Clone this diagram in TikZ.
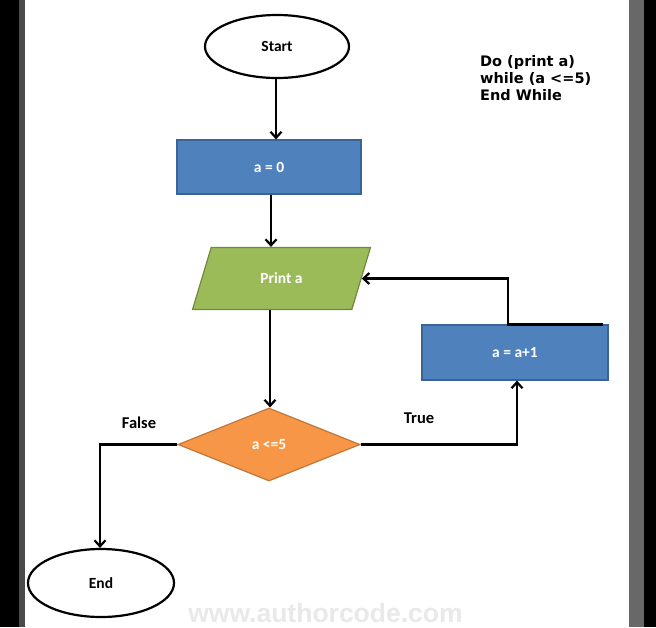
\documentclass[tikz,border=0pt]{standalone}
\usepackage{fontspec}
\setmainfont{Carlito}
\newfontfamily\notefont{DejaVu Sans}
\newfontfamily\wmfont{Liberation Sans}
\usetikzlibrary{shapes.geometric,arrows.meta}
\definecolor{boxblue}{HTML}{4F81BD}
\definecolor{boxblueline}{HTML}{3A6396}
\definecolor{iogreen}{HTML}{9BBB59}
\definecolor{iogreenline}{HTML}{71893F}
\definecolor{condorange}{HTML}{F79646}
\definecolor{condorangeline}{HTML}{C0773A}
\definecolor{wmgray}{HTML}{E9E9E9}
\definecolor{edgegrayL}{HTML}{4A4A4A}
\definecolor{edgegrayR}{HTML}{686868}
\begin{document}
\begin{tikzpicture}[x=1pt,y=-1pt,
  lbl/.style={font=\bfseries\fontsize{15.5}{18}\selectfont},
  term/.style={ellipse, draw=black, line width=2.2pt, fill=white, inner sep=0pt, lbl},
  procbox/.style={rectangle, draw=boxblueline, line width=1.2pt, fill=boxblue, text=white, inner sep=0pt, lbl},
  iobox/.style={trapezium, trapezium left angle=63, trapezium right angle=117, trapezium stretches=true,
     draw=iogreenline, line width=1.2pt, fill=iogreen, text=white, inner sep=0pt, lbl},
  condbox/.style={diamond, draw=condorangeline, line width=1.2pt, fill=condorange, text=white, inner sep=0pt, lbl},
  arr/.style={draw=black, line width=2.2pt, -{Straight Barb[length=6pt,width=11pt,line width=2.2pt]}},
  plain/.style={draw=black, line width=2.2pt},
  edgelabel/.style={font=\bfseries\fontsize{16.5}{19}\selectfont, text=black}
]
\useasboundingbox (0,0) rectangle (656,627);
% frame
\fill[white] (0,0) rectangle (656,627);
\fill[black] (0,0) rectangle (19,627);
\fill[edgegrayL] (19,0) rectangle (25,627);
\fill[edgegrayR] (629,0) rectangle (644,627);
\fill[black] (644,0) rectangle (656,627);

% nodes
\node[term, minimum width=144pt, minimum height=63pt] (start) at (277,46.5) {Start};
\node[procbox, minimum width=184pt, minimum height=54pt] (a0) at (269,167) {a = 0};
\node[iobox, minimum width=178pt, minimum height=62pt] (print) at (281.5,278.5) {Print a};
\node[condbox, minimum width=182pt, minimum height=73pt, aspect=2.49] (cond) at (269,444.5) {a <=5};
\node[procbox, minimum width=186pt, minimum height=55pt] (a1) at (515,352.5) {a = a+1};
\node[term, minimum width=146pt, minimum height=68pt] (end) at (101,583) {End};

% connectors
\draw[arr] ([xshift=-1pt]start.south) -- ([xshift=-1pt]start.south |- a0.north);
\draw[arr] ([xshift=2pt]a0.south) -- ([xshift=2pt]a0.south |- print.north);
\draw[arr] ([xshift=1pt]cond.north |- print.south) -- ([xshift=1pt]cond.north);
\draw[arr] (cond.east) -- ([xshift=2pt]a1.south |- cond.east) -- ([xshift=2pt]a1.south);
\draw[arr] (cond.west) -- ([xshift=-1pt]end.north |- cond.west) -- ([xshift=-1pt]end.north);
\coordinate (loopstart) at ([xshift=-6pt]a1.north east);
\draw[arr] (loopstart) -- ([xshift=-7pt]a1.north) |- (print.east);

% labels
\node[edgelabel] (truelbl) at (419,418) {True};
\node[edgelabel] (falselbl) at (139,423) {False};

\node[anchor=north west, inner sep=0pt, align=left, text=black,
  font=\notefont\bfseries\fontsize{14.5}{17}\selectfont] (note) at (480,55)
  {Do (print a)\\while (a <=5)\\End While};

\node[anchor=base, inner sep=0pt, text=wmgray, font=\wmfont\bfseries\fontsize{26.5}{30}\selectfont] (wm) at (325.5,622) {www.authorcode.com};
\end{tikzpicture}
\end{document}
